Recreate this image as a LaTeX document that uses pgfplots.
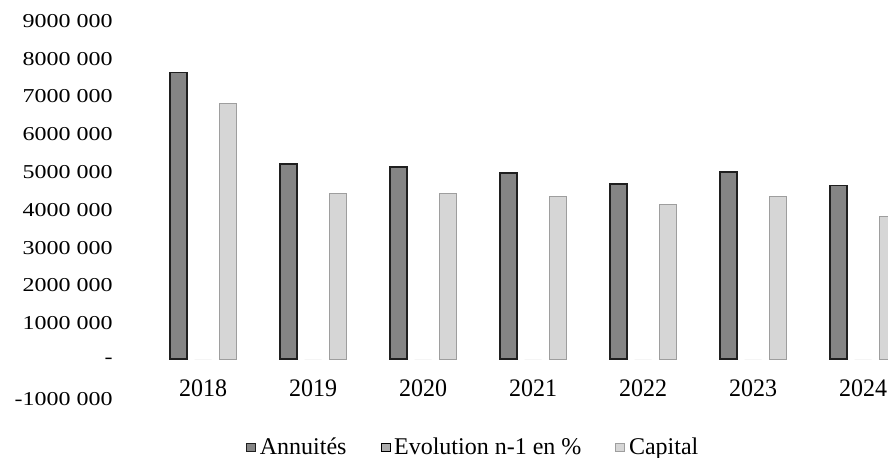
\documentclass[border=0pt]{standalone}
\usepackage{fontspec}
\setmainfont{Liberation Serif}
\usepackage{pgfplots}
\pgfplotsset{compat=1.18}

\definecolor{annuites}{gray}{0.52}
\definecolor{annuitesedge}{gray}{0.12}
\definecolor{evolution}{gray}{0.68}
\definecolor{capital}{gray}{0.84}
\definecolor{capitaledge}{gray}{0.62}

% small square patch for the legend
\pgfplotsset{sq legend/.style={legend image code/.code={%
  \draw[##1, line width=0.3pt] (0pt,-2.2pt) rectangle (4.5pt,2.2pt);}}}

\begin{document}
\begin{tikzpicture}
\begin{axis}[
  at={(74pt,30.1pt)}, anchor=south west,
  scale only axis, width=370pt, height=189pt,
  xmin=-0.5, xmax=6.227,
  ymin=-1000000, ymax=9000000,
  ybar=3.75pt, bar width=8.5pt,
  axis line style={draw=none},
  major tick length=0pt,
  xtick={0,1,2,3,4,5,6},
  xticklabels={2018,2019,2020,2021,2022,2023,2024},
  ytick={-1000000,0,1000000,2000000,3000000,4000000,5000000,6000000,7000000,8000000,9000000},
  yticklabels={-1000 000,{-\hspace{6pt}},1000 000,2000 000,3000 000,4000 000,5000 000,6000 000,7000 000,8000 000,9000 000},
  scaled y ticks=false,
  /pgf/number format/assume math mode=true,
  tick label style={font=\fontsize{12}{14}\selectfont},
  yticklabel style={anchor=east, inner sep=0pt, xshift=-17.5pt, yshift=-1pt, yscale=0.82},
  xticklabel style={anchor=center, inner sep=0pt, yshift=4.4pt, yscale=1.05},
  legend style={at={(0.441,-0.1336)}, anchor=center, draw=none, fill=none,
    legend columns=-1, font=\fontsize{12}{14}\selectfont, inner sep=0pt,
    /tikz/every even column/.append style={column sep=15pt}},
  clip=true,
]
% Annuités
\addplot[fill=annuites, draw=annuitesedge, line width=0.6pt, sq legend]
  coordinates {(0,7590000) (1,5160000) (2,5080000) (3,4920000) (4,4630000) (5,4950000) (6,4600000)};
% Evolution n-1 en % (negligible at this scale)
\addplot[fill=evolution, draw=none, sq legend]
  coordinates {(0,0) (1,0) (2,0) (3,0) (4,0) (5,0) (6,0)};
% Capital
\addplot[fill=capital, draw=capitaledge, line width=0.4pt, sq legend]
  coordinates {(0,6750000) (1,4370000) (2,4370000) (3,4310000) (4,4100000) (5,4290000) (6,3760000)};
\legend{Annuités, Evolution n-1 en \%, Capital}
\end{axis}
\pgfresetboundingbox
\useasboundingbox (0,0) rectangle (444pt,228.5pt);
\end{tikzpicture}
\end{document}
